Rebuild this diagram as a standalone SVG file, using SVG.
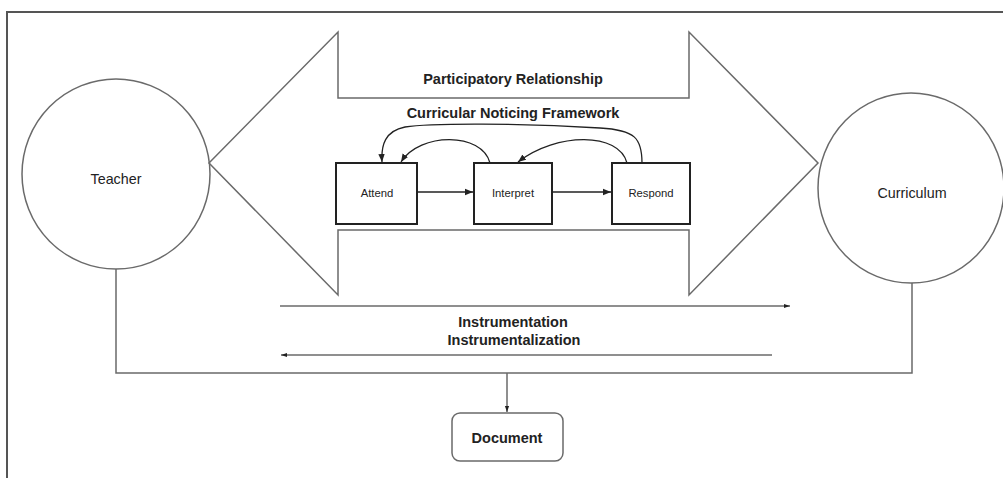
<svg xmlns="http://www.w3.org/2000/svg" width="1003" height="478" viewBox="0 0 1003 478">
<style>
  .g { fill: none; stroke: #6a6a6a; stroke-width: 1.5; }
  .k { fill: none; stroke: #222; stroke-width: 1.3; }
  .box { fill: #fff; stroke: #222; stroke-width: 2; }
  .lbl { font-family: "Liberation Sans", Arial, sans-serif; fill: #222; text-anchor: middle; }
  .b { font-weight: bold; font-size: 14.5px; }
  .n { font-size: 14.3px; }
  .s { font-size: 11.3px; }
</style>
<defs>
  <marker id="ah" viewBox="0 0 10 10" refX="10" refY="5" markerWidth="8" markerHeight="8" markerUnits="userSpaceOnUse" orient="auto">
    <path d="M0,1 L10,5 L0,9 Z" fill="#222"/>
  </marker>
  <marker id="ahs" viewBox="0 0 10 10" refX="10" refY="5" markerWidth="6" markerHeight="6" markerUnits="userSpaceOnUse" orient="auto">
    <path d="M0,1.5 L10,5 L0,8.5 Z" fill="#222"/>
  </marker>
</defs>
<rect width="1003" height="478" fill="#fff"/>
<path d="M7,478 L7,12 L1003,12" fill="none" stroke="#555" stroke-width="2"/>

<g id="participatory-arrow">
  <polygon class="g" points="209,163 338,32 338,98 689,98 689,32 818,163 689,295 689,230 338,230 338,295"/>
  <text class="lbl b" x="513" y="84">Participatory Relationship</text>
</g>

<g id="framework-title">
  <text class="lbl b" x="513" y="118">Curricular Noticing Framework</text>
</g>

<g id="teacher">
  <ellipse class="g" cx="116" cy="174" rx="94" ry="95"/>
  <text class="lbl n" x="116" y="184">Teacher</text>
</g>

<g id="curriculum">
  <ellipse class="g" cx="911" cy="188" rx="93" ry="95"/>
  <text class="lbl n" x="912" y="198">Curriculum</text>
</g>

<g id="attend">
  <rect class="box" x="336" y="163" width="81" height="61"/>
  <text class="lbl s" x="377" y="197">Attend</text>
</g>
<g id="interpret">
  <rect class="box" x="474" y="163" width="78" height="61"/>
  <text class="lbl s" x="513" y="197">Interpret</text>
</g>
<g id="respond">
  <rect class="box" x="612" y="163" width="78" height="61"/>
  <text class="lbl s" x="651" y="197">Respond</text>
</g>

<g id="document">
  <rect x="452" y="413" width="111" height="48" rx="8" fill="#fff" stroke="#6a6a6a" stroke-width="1.5"/>
  <text class="lbl b" x="507" y="443">Document</text>
</g>

<g id="instrument-labels">
  <text class="lbl b" x="513" y="327">Instrumentation</text>
  <text class="lbl b" x="514" y="345">Instrumentalization</text>
</g>

<g id="connectors">
  <line class="k" x1="417" y1="192" x2="473" y2="192" marker-end="url(#ah)"/>
  <line class="k" x1="552" y1="192" x2="611" y2="192" marker-end="url(#ah)"/>
  <path class="k" d="M490,163 C482,132 420,132 401,162" marker-end="url(#ah)"/>
  <path class="k" d="M627,163 C619,132 557,132 518,162" marker-end="url(#ah)"/>
  <path class="k" d="M642,163 C642,138 635,130 600,128 C520,123 430,123 405,127 C385,131 381,145 382,162" marker-end="url(#ah)"/>
  <line class="g" x1="280" y1="306" x2="790" y2="306" marker-end="url(#ahs)"/>
  <line class="g" x1="772" y1="355" x2="281" y2="355" marker-end="url(#ahs)"/>
  <path class="g" d="M116,269 L116,373 L912,373 L912,283"/>
  <line class="g" x1="507" y1="373" x2="507" y2="412" marker-end="url(#ahs)"/>
</g>
</svg>
